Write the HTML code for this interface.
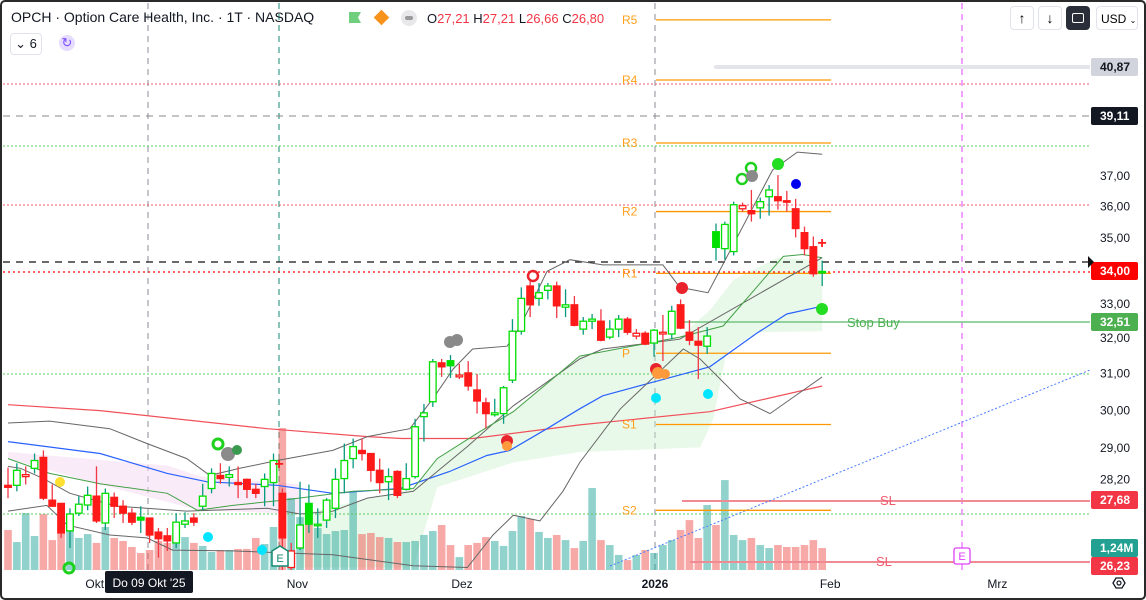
<!DOCTYPE html>
<html><head><meta charset="utf-8">
<style>
html,body{margin:0;padding:0;background:#fff;}
body{width:1146px;height:600px;overflow:hidden;font-family:"Liberation Sans",sans-serif;}
#frame{position:absolute;left:0;top:0;width:1142px;height:596px;border:2px solid #2a2a2a;border-radius:5px;}
svg text{font-family:"Liberation Sans",sans-serif;}
</style></head>
<body>
<div id="frame"></div>
<svg id="chart" width="1146" height="600" style="position:absolute;left:0;top:0">
<defs><clipPath id="plot"><rect x="3" y="3" width="1087" height="567"/></clipPath></defs>
<g id="static">
  <line x1="148" y1="3" x2="148" y2="570" stroke="#8a8d98" stroke-dasharray="6,5"/>
  <line x1="279" y1="3" x2="279" y2="570" stroke="#138a72" stroke-dasharray="6,5"/>
  <line x1="655" y1="3" x2="655" y2="570" stroke="#8a8d98" stroke-dasharray="6,5"/>
  <line x1="962" y1="3" x2="962" y2="570" stroke="#e040fb" stroke-dasharray="6,5"/>
</g>
<g id="panes" clip-path="url(#plot)"></g>
<g id="overlay"></g>
<g id="axes"></g>
</svg>

<div style="position:absolute;left:11px;top:9px;font-size:14px;color:#131722;white-space:nowrap">OPCH · Option Care Health, Inc. · 1T · NASDAQ</div>
<div style="position:absolute;left:349px;top:12px;width:12px;height:11px;background:#6fcf7f;clip-path:polygon(0 0,100% 0,75% 50%,100% 100%,0 100%)"></div>
<div style="position:absolute;left:376px;top:12px;width:11px;height:11px;background:#f7931a;transform:rotate(45deg)"></div>
<div style="position:absolute;left:401px;top:10px;width:16px;height:16px;border-radius:8px;background:#e8e8ea"><div style="position:absolute;left:4px;top:6px;width:8px;height:4px;border-radius:2px;background:#999"></div></div>
<div style="position:absolute;left:427px;top:11px;font-size:13px;color:#131722;white-space:nowrap">O<span style="color:#f23645">27,21</span> H<span style="color:#f23645">27,21</span> L<span style="color:#f23645">26,66</span> C<span style="color:#f23645">26,80</span></div>
<div style="position:absolute;left:10px;top:33px;width:30px;height:20px;border:1px solid #e0e3eb;border-radius:4px;font-size:13px;color:#131722;line-height:20px;text-align:center">&#8964; 6</div>
<div style="position:absolute;left:59px;top:35px;width:16px;height:16px;border-radius:8px;background:#e6dcff;color:#7b4dff;font-size:13px;line-height:16px;text-align:center">&#x21bb;</div>

<div style="position:absolute;left:1010px;top:6px;width:22px;height:22px;border:1px solid #e0e3eb;border-radius:4px;text-align:center;font-size:14px;line-height:22px">&#8593;</div>
<div style="position:absolute;left:1038px;top:6px;width:22px;height:22px;border:1px solid #e0e3eb;border-radius:4px;text-align:center;font-size:14px;line-height:22px">&#8595;</div>
<div style="position:absolute;left:1066px;top:6px;width:24px;height:24px;background:#2a2e39;border-radius:4px"><div style="position:absolute;left:6px;top:7px;width:10px;height:8px;border:1.5px solid #fff;border-radius:2px"></div></div>
<div style="position:absolute;left:1096px;top:6px;width:42px;height:24px;border:1px solid #e0e3eb;border-radius:4px;font-size:12px;line-height:24px;padding-left:4px;box-sizing:border-box;white-space:nowrap;overflow:hidden">USD <span style="font-size:8px">&#8964;</span></div>

<script>
// ---- data (prices) ----
const opens  = [28.05,28.05,28.27,28.48,28.76,27.68,27.60,26.93,27.36,27.56,27.78,27.12,27.75,27.53,27.36,27.26,27.24,26.90,26.81,26.64,27.09,27.24,27.53,27.97,28.30,28.25,28.12,28.20,27.95,28.02,28.12,27.85,26.06,26.52,27.60,27.07,27.19,27.48,28.22,28.73,28.94,28.86,28.43,28.14,28.40,27.95,28.27,29.83,30.23,31.30,31.36,30.91,31.02,30.55,30.20,29.88,29.91,30.82,32.20,33.53,33.16,33.40,33.53,32.90,32.97,32.26,32.49,32.49,32.03,32.26,32.55,32.06,32.14,31.86,32.12,32.12,32.97,32.17,31.91,31.77,35.20,34.67,34.58,35.93,35.87,35.96,36.32,36.32,36.19,35.93,35.17,34.73,33.97];
const highs  = [28.50,28.61,28.53,28.86,28.94,28.07,27.60,27.48,27.78,28.02,28.53,27.97,27.87,27.68,27.48,27.53,27.24,27.00,27.00,27.36,27.38,27.36,28.09,28.48,28.61,28.53,28.53,28.22,28.09,28.35,28.86,27.97,26.64,28.14,28.07,27.48,27.73,28.48,29.12,29.25,29.25,28.86,28.73,28.48,28.43,28.61,29.77,30.17,31.41,31.41,31.52,31.27,31.35,30.99,30.34,30.31,30.66,32.55,33.49,33.72,33.62,33.62,33.66,33.43,33.23,32.61,32.70,32.84,32.52,32.67,32.61,32.26,32.20,32.26,32.67,32.94,33.13,32.52,32.32,32.32,35.46,35.52,36.16,36.13,36.54,36.29,36.70,37.03,36.51,36.25,35.36,35.05,34.30];
const lows   = [27.73,27.90,28.07,28.35,27.68,27.53,26.76,26.52,27.29,27.43,27.12,26.95,27.24,27.12,27.07,26.88,26.64,26.29,26.45,26.52,27.00,27.05,27.43,27.85,28.09,28.02,27.73,27.73,27.73,27.53,27.53,25.90,25.95,26.47,26.88,26.76,27.00,27.24,27.85,28.48,28.68,28.14,27.85,27.68,27.73,27.92,28.22,29.17,30.09,30.91,30.88,30.85,30.53,29.91,29.51,29.83,29.64,30.74,32.10,32.61,32.94,33.13,32.58,32.61,32.34,32.10,32.26,31.91,31.97,32.03,32.10,31.97,31.80,31.47,31.35,31.97,32.26,31.80,30.85,31.55,34.30,34.33,34.46,35.84,35.52,35.61,35.71,35.90,35.84,35.02,34.46,33.81,33.53];
const closes = [28.00,28.43,28.32,28.68,27.73,27.53,26.88,27.34,27.58,27.80,27.17,27.85,27.53,27.36,27.14,27.19,26.83,26.74,26.69,27.14,27.17,27.14,27.78,28.35,28.22,28.32,28.07,27.95,27.85,28.20,28.68,26.76,26.45,27.07,27.09,27.09,27.68,28.20,28.68,29.04,28.86,28.43,28.12,28.27,27.80,28.22,29.56,29.93,31.33,31.19,31.22,30.96,30.66,30.25,29.91,29.93,30.61,32.20,33.16,32.97,33.33,33.53,32.94,32.97,32.37,32.49,32.55,31.94,32.26,32.55,32.17,32.14,31.83,32.23,32.17,32.78,32.29,31.94,31.80,32.06,34.71,35.43,36.06,36.03,35.77,36.16,36.54,36.19,36.16,35.30,34.67,33.90,33.95];
const volumes= [2.26,1.58,3.22,1.92,3.16,1.69,2.09,3.05,1.81,2.03,1.53,2.43,1.81,1.64,1.30,0.96,1.13,1.64,1.53,2.09,1.86,1.53,1.36,1.02,1.13,1.13,1.19,1.19,1.81,1.47,2.43,8.02,4.07,2.99,3.05,2.37,2.03,2.20,2.26,4.41,2.03,2.09,1.86,1.81,1.58,1.58,1.64,1.98,2.20,2.54,1.41,0.73,1.41,1.53,1.86,1.64,1.36,2.20,3.05,2.88,2.15,1.81,1.98,1.69,1.24,1.64,4.63,1.69,1.41,0.85,0.56,0.85,1.13,0.96,1.41,1.69,2.26,2.82,1.81,3.67,2.54,5.08,1.98,1.69,1.81,1.41,1.24,1.41,1.30,1.30,1.41,1.69,1.24];
const bbUpper = [[0,29.66],[4.7,29.71],[11.5,29.51],[15.7,29.12],[20.2,28.73],[22.8,28.30],[26.2,28.48],[30.4,28.68],[36.7,28.94],[40.6,29.30],[45.4,29.51],[48,30.31],[50.3,31.13],[52.5,31.69],[56.4,31.77],[57.9,32.35],[60.9,33.97],[63.5,34.33],[67.2,34.17],[74,34.17],[75.9,33.49],[79.1,33.33],[86.4,37.20],[89.2,37.80],[92,37.73]];
const bbMiddle = [[0,28.53],[1.4,28.48],[4,28.22],[7,27.85],[12.3,27.53],[20.2,27.41],[29.3,27.48],[33,27.34],[36.7,27.41],[40.6,27.73],[45.8,27.90],[48.5,28.40],[51.9,29.04],[57.1,30.12],[64.6,31.41],[67.2,31.69],[75.9,31.97],[92,34.39]];
const bbLower = [[0,27.41],[4.4,27.55],[6.7,27.07],[11.5,26.83],[15.7,26.76],[18.6,26.47],[25.4,26.45],[36.7,26.36],[45.8,26.10],[51.9,26.06],[54.8,26.83],[57.1,27.31],[60.1,27.17],[62.7,27.90],[64.6,28.63],[69.2,30.04],[76.3,31.69],[78.2,31.41],[82.7,30.31],[86.1,29.91],[92,30.91]];
const emaFast = [[0,28.73],[4.7,28.35],[10.4,28.09],[18,27.85],[21.4,27.43],[25.4,27.55],[31,27.68],[39,27.90],[45.8,27.97],[48.5,28.73],[53.3,29.43],[57.1,29.96],[64.6,31.49],[75.9,32.03],[80.8,32.35],[87.6,34.43],[89.8,34.49],[92,34.39]];
const smaMid = [[0,29.17],[10.4,28.86],[18,28.35],[22.5,28.14],[30.4,28.05],[36.7,27.85],[44.3,27.97],[49.9,28.40],[54.1,28.81],[56.7,28.94],[60.9,29.51],[64.6,30.04],[67.2,30.39],[79.3,31.19],[84.6,32.14],[88,32.70],[92,32.93]];
const smaLong = [[0,30.15],[10.4,29.99],[29.3,29.51],[40.6,29.30],[44.5,29.25],[52.5,29.25],[64.6,29.61],[79.3,29.96],[92,30.66]];
const cloudTop = [[33,27.34],[45.8,27.97],[48.5,28.73],[57.1,30.0],[64.6,31.49],[75.9,32.03],[79.4,32.84],[82,33.72],[87,34.4],[92,34.3]];
const cloudBottom = [[33,26.06],[45.8,26.06],[48.5,28.0],[57.1,28.63],[64.6,28.9],[78.2,29.02],[79.7,29.77],[81.2,31.6],[84.6,32.17],[92,32.2]];
const pinkTop = [[0,28.9],[18,28.55],[21.7,28.28],[30.4,28.12],[33,28.07]];
const pinkBottom = [[0,28.73],[10.4,28.07],[21.7,27.43],[33,27.34]];
const priceTicks = [37,36,35,33,32,31,30,29,28.2];
const pivotNames = ["R5","R4","R3","R2","R1","P","S1","S2"];
const pivotValues = [42.55,40.32,38.11,35.84,33.91,31.57,29.62,27.43];
const monthLabels = ["Okt","Nov","Dez","2026","Feb","Mrz"];
const monthIndex = [9.8,32.7,51.3,73.1,92.9,111.8];

const X0=8, DX=8.85, YREF=176, PREF=37, K=1117, VBASE=570, VK=17.7;
function xs(i){return X0+DX*i;}
function ys(p){return YREF+K*Math.log(PREF/p);}
function vs(v){return VBASE-v*VK;}
const NS="http://www.w3.org/2000/svg";
function mk(tag,attrs,parent){const e=document.createElementNS(NS,tag);for(const k in attrs)e.setAttribute(k,attrs[k]);parent.appendChild(e);return e;}
const panes=document.getElementById('panes'), overlay=document.getElementById('overlay'), axes=document.getElementById('axes');
function pts(arr){return arr.map(d=>xs(d[0]).toFixed(1)+','+ys(d[1]).toFixed(1)).join(' ');}

let c1=mk('polygon',{points:pts(pinkTop)+' '+pts(pinkBottom.slice().reverse()),fill:'#f3d8f0',opacity:'0.5'},panes);


let c2=mk('polygon',{points:pts(cloudTop)+' '+pts(cloudBottom.slice().reverse()),fill:'#c8f0c8',opacity:'0.4'},panes);



volumes.forEach((v,i)=>{
  const up=closes[i]>=opens[i];
  const r=mk('rect',{x:xs(i)-3.8,y:vs(v),width:7.6,height:v*VK,fill:up?'#26a69a':'#ef5350',opacity:'0.5'},panes);
  
  
});

const hl=[[84,'#f05a6e','2,2',1],[146,'#5cc95c','2,2',1],[205,'#f05a6e','2,2',1],[272,'#ff0000','2,3',1.3],[374,'#5cc95c','2,2',1],[514,'#5cc95c','2,2',1]];
hl.forEach(h=>{const l=mk('line',{x1:3,x2:1090,y1:h[0],y2:h[0],stroke:h[1],'stroke-dasharray':h[2],'stroke-width':h[3]},panes);
  
  });
let l1=mk('line',{x1:3,x2:1090,y1:116,y2:116,stroke:'#888','stroke-dasharray':'7,6'},panes);


let l2=mk('line',{x1:3,x2:1090,y1:262,y2:262,stroke:'#111','stroke-dasharray':'7,6','stroke-width':1.3},panes);


let l3=mk('line',{x1:716,x2:1090,y1:67,y2:67,stroke:'#e3e5ea','stroke-width':4,'stroke-linecap':'round'},panes);


let l4=mk('line',{x1:680,x2:1090,y1:322,y2:322,stroke:'#7cc98a','stroke-width':2,opacity:'0.8'},panes);


let l5=mk('line',{x1:682,x2:1090,y1:501,y2:501,stroke:'#f08a93','stroke-width':2},panes);


let l6=mk('line',{x1:690,x2:1090,y1:562,y2:562,stroke:'#f08a93','stroke-width':2},panes);


let l7=mk('line',{x1:610,y1:566,x2:1090,y2:370,stroke:'#4a7cff','stroke-dasharray':'2,2'},panes);



pivotValues.forEach((p,k)=>{
  const y=ys(p);
  const l=mk('line',{x1:656,x2:831,y1:y,y2:y,stroke:'#ff9800','stroke-width':1.3},panes);
  
  
  const t=mk('text',{x:622,y:y+4,fill:'#ff9f1c','font-size':12},overlay);
  t.textContent=pivotNames[k];
  
  
});

[[smaLong,'#f0505a',1.2,'sma-long-line'],[smaMid,'#2962ff',1.2,'sma-mid-line'],[bbUpper,'#666',1,'bollinger-upper'],[bbMiddle,'#666',1,'bollinger-middle'],[bbLower,'#666',1,'bollinger-lower'],[emaFast,'#43a047',1,'ema-fast-line']].forEach(s=>{
  const pl=mk('polyline',{points:pts(s[0]),fill:'none',stroke:s[1],'stroke-width':s[2]},panes);
  
  
});

opens.forEach((o,i)=>{
  const c=closes[i], prev=i>0?closes[i-1]:o;
  const col=c>=prev?'#00e000':'#ff1a1a';
  const wick=c>=prev?'#089981':'#f23645';
  const x=xs(i);
  const w=mk('line',{x1:x,x2:x,y1:ys(highs[i]),y2:ys(lows[i]),stroke:wick,'stroke-width':1.3},panes);
  
  
  const top=ys(Math.max(o,c)), bot=ys(Math.min(o,c));
  const b=mk('rect',{x:x-3.3,y:top,width:6.6,height:Math.max(1.5,bot-top),fill:c>o?'#ffffff':col,stroke:col,'stroke-width':1.3},panes);
  
  
});

const marks=[[218,444,5,'none','#1fd11f',3],[228,454,7,'#8a8a8a','none',0],[237,450,5,'#3a9a50','none',0],[533,276,5,'none','#e8232b',2.5],[450,342,6,'#8a8a8a','none',0],[457,340,6,'#8a8a8a','none',0],[682,288,6,'#e8232b','none',0],[742,179,5,'none','#1fd11f',2.5],[751,168,5,'none','#1fd11f',2.5],[752,176,6,'#8a8a8a','none',0],[778,164,6,'#22dd22','none',0],[796,184,5,'#0000ee','none',0],[822,309,6,'#22dd22','none',0],[656,369,6,'#e8232b','none',0],[658,373,6,'#ff9a3c','none',0],[665,374,5,'#ff9a3c','none',0],[507,441,6,'#e8232b','none',0],[507,446,5,'#ff9a3c','none',0],[656,398,5,'#00e5ff','none',0],[708,394,5,'#00e5ff','none',0],[208,537,5,'#00e5ff','none',0],[262,550,5,'#00e5ff','none',0],[60,482,5,'#ffe030','none',0],[69,568,5,'none','#1fd11f',3]];
marks.forEach(m=>{const e=mk('circle',{cx:m[0],cy:m[1],r:m[2],fill:m[3],stroke:m[4],'stroke-width':m[5]},overlay);
  
  });
[[279,463],[822,242]].forEach(p=>{const t=mk('text',{x:p[0],y:p[1]+6,fill:'#ff1a1a','font-size':16,'font-weight':'bold','text-anchor':'middle'},overlay);
  t.textContent='+';
  
  });

function txt(x,y,s,fill,size,name,anchor,weight){const t=mk('text',{x:x,y:y,fill:fill,'font-size':size,'text-anchor':anchor||'start','font-weight':weight||'normal'},axes);t.textContent=s;
  
  return t;}
txt(847,327,'Stop Buy','#4caf50',13,'stop-buy-label');
txt(880,505,'SL','#f05a6e',13,'sl-label-1');
txt(876,566,'SL','#f05a6e',13,'sl-label-2');

let e1=mk('path',{d:'M272,551 L280,546 L288,551 L288,566 L272,566 Z',fill:'#fff',stroke:'#138a72','stroke-width':1.5},overlay);


txt(280,562,'E','#138a72',11,'earnings-marker-text','middle');
let e2=mk('rect',{x:954,y:548,width:16,height:16,rx:2,fill:'#fff',stroke:'#e040fb','stroke-width':1.3},overlay);


txt(962,560,'E','#e040fb',11,'future-earnings-text','middle');

priceTicks.forEach(p=>{
  const s=p.toFixed(2).replace('.',',');
  txt(1100,ys(p)+4,s,'#131722',12,'price-tick-label');
});
function tag(y,s,bg,fg,name){const r=mk('rect',{x:1091,y:y-9,width:47,height:18,rx:2,fill:bg},axes);
  
  
  txt(1100,y+4,s,fg,12,name,'start','bold');}
tag(67,'40,87','#d1d4dc','#131722','target-price-tag');
tag(116,'39,11','#131722','#ffffff','alert-price-tag');
tag(271,'34,00','#ff0000','#ffffff','last-price-tag');
tag(322,'32,51','#4caf50','#ffffff','stop-buy-price-tag');
tag(500,'27,68','#f23645','#ffffff','sl-price-tag-1');
tag(548,'1,24M','#22a192','#ffffff','volume-tag');
tag(566,'26,23','#f23645','#ffffff','sl-price-tag-2');
let tri=mk('path',{d:'M1088,256 L1094,262 L1088,268 Z',fill:'#111'},axes);



monthLabels.forEach((m,k)=>{
  txt(xs(monthIndex[k]),588,m,'#131722',12,'time-axis-label','middle',m==='2026'?'bold':'normal');
});
let db=mk('rect',{x:105,y:571,width:88,height:22,rx:2,fill:'#131722'},axes);


txt(149,587,"Do 09 Okt '25",'#ffffff',12,'crosshair-date-label','middle');
let gear=mk('polygon',{points:'1113,583 1116,578 1122,578 1125,583 1122,588 1116,588',fill:'none',stroke:'#131722','stroke-width':1.3},axes);


let gc=mk('circle',{cx:1119,cy:583,r:2,fill:'none',stroke:'#131722','stroke-width':1.2},axes);


</script>
</body></html>
